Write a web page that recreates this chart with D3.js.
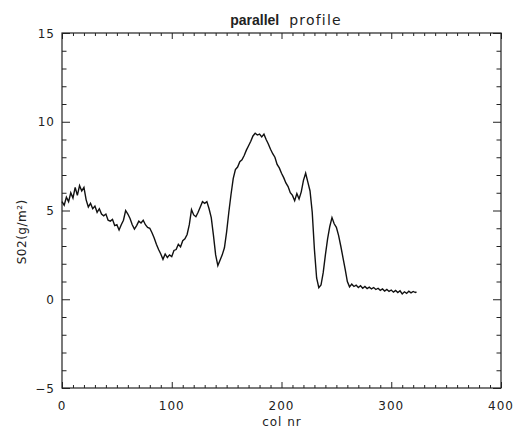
<!DOCTYPE html>
<html>
<head>
<meta charset="utf-8">
<script src="https://cdn.jsdelivr.net/npm/d3@7"></script>
<style>
  body { margin: 0; background: #fff; }
  svg text { font-family: "DejaVu Sans", Verdana, sans-serif; fill: #222; }
</style>
</head>
<body>
<svg id="chart" width="517" height="433"></svg>
<script>
// column numbers and SO2 column amounts
var cols = [0, 2, 4, 6, 8, 10, 12, 14, 16, 18, 20, 22, 24, 26, 28, 30, 32, 34, 36, 38,
  40, 42, 44, 46, 48, 50, 52, 54, 56, 58, 60, 62, 64, 66, 68, 70, 72, 74, 76, 78,
  80, 82, 84, 86, 88, 90, 92, 94, 96, 98, 100, 102, 104, 106, 108, 110, 112, 114, 116, 118,
  120, 122, 124, 126, 128, 130, 132, 134, 136, 138, 140, 142, 144, 146, 148, 150, 152, 154, 156, 158,
  160, 162, 164, 166, 168, 170, 172, 174, 176, 178, 180, 182, 184, 186, 188, 190, 192, 194, 196, 198,
  200, 202, 204, 206, 208, 210, 212, 214, 216, 218, 220, 222, 224, 226, 228, 230, 232, 234, 236, 238,
  240, 242, 244, 246, 248, 250, 252, 254, 256, 258, 260, 262, 264, 266, 268, 270, 272, 274, 276, 278,
  280, 282, 284, 286, 288, 290, 292, 294, 296, 298, 300, 302, 304, 306, 308, 310, 312, 314, 316, 318,
  320, 322, 323];
var so2 = [5.5, 5.3, 5.75, 5.5, 6.0, 5.7, 6.3, 5.85, 6.4, 6.1, 6.3, 5.6, 5.2, 5.4, 5.1, 5.25, 4.9, 5.1, 4.8, 4.7,
  4.8, 4.45, 4.4, 4.5, 4.15, 4.2, 3.9, 4.2, 4.45, 5.0, 4.8, 4.55, 4.2, 3.95, 4.15, 4.4, 4.3, 4.45, 4.2, 4.05,
  4.0, 3.75, 3.45, 3.1, 2.8, 2.55, 2.25, 2.55, 2.35, 2.5, 2.4, 2.75, 2.8, 3.1, 2.95, 3.3, 3.4, 3.65, 4.2, 5.05,
  4.75, 4.65, 4.9, 5.2, 5.5, 5.4, 5.5, 5.1, 4.6, 3.6, 2.5, 1.9, 2.2, 2.5, 2.9, 3.8, 4.9, 5.9, 6.8, 7.3,
  7.45, 7.75, 7.85, 8.1, 8.4, 8.65, 8.9, 9.2, 9.35, 9.25, 9.3, 9.15, 9.3, 9.0, 8.75, 8.45, 8.2, 8.0, 7.6, 7.4,
  7.1, 6.85, 6.55, 6.35, 6.0, 5.85, 5.55, 5.95, 5.65, 6.05, 6.7, 7.1, 6.6, 6.1, 4.9, 2.8, 1.2, 0.65, 0.8, 1.5,
  2.5, 3.4, 4.1, 4.6, 4.25, 4.05, 3.6, 3.0, 2.35, 1.7, 1.0, 0.7, 0.85, 0.72, 0.8, 0.66, 0.76, 0.62, 0.72, 0.6,
  0.68, 0.58, 0.66, 0.55, 0.62, 0.5, 0.58, 0.46, 0.55, 0.44, 0.52, 0.4, 0.5, 0.38, 0.48, 0.3, 0.42, 0.33, 0.45, 0.36,
  0.44, 0.38, 0.42];
var xTicks = [0, 100, 200, 300, 400];
var yTicks = [-5, 0, 5, 10, 15];

InitChart();

function InitChart() {
  var svg = d3.select('#chart'),
    MARGINS = { top: 33, right: 16, bottom: 45, left: 62 },
    WIDTH = 517,
    HEIGHT = 433,
    x = d3.scaleLinear().domain([0, 400]).range([MARGINS.left, WIDTH - MARGINS.right]),
    y = d3.scaleLinear().domain([-5, 15]).range([HEIGHT - MARGINS.bottom, MARGINS.top]);

  var xMinor = d3.range(0, 401, 10).filter(function(d) { return d % 100 !== 0; });
  var yMinor = d3.range(-5, 16, 1).filter(function(d) { return d % 5 !== 0; });

  // inward ticks on all four sides, IDL style
  function addAxis(axis, ticks, len, tr) {
    svg.append('g')
      .attr('transform', tr)
      .call(axis.tickValues(ticks).tickSize(-len).tickFormat(''))
      .call(function(g) { g.select('.domain').remove(); })
      .selectAll('line').attr('stroke', '#222');
  }
  var bottom = 'translate(0,' + y(-5) + ')', top = 'translate(0,' + y(15) + ')';
  var left = 'translate(' + x(0) + ',0)', right = 'translate(' + x(400) + ',0)';
  addAxis(d3.axisBottom(x), xTicks, 6, bottom);
  addAxis(d3.axisBottom(x), xMinor, 3, bottom);
  addAxis(d3.axisTop(x), xTicks, 6, top);
  addAxis(d3.axisTop(x), xMinor, 3, top);
  addAxis(d3.axisLeft(y), yTicks, 8, left);
  addAxis(d3.axisLeft(y), yMinor, 4.5, left);
  addAxis(d3.axisRight(y), yTicks, 8, right);
  addAxis(d3.axisRight(y), yMinor, 4.5, right);

  svg.append('rect')
    .attr('x', x(0)).attr('y', y(15))
    .attr('width', x(400) - x(0)).attr('height', y(-5) - y(15))
    .attr('fill', 'none').attr('stroke', '#222').attr('stroke-width', 1.2);

  // tick labels
  svg.append('g').selectAll('text')
    .data(xTicks).enter().append('text')
    .attr('x', function(d) { return x(d); })
    .attr('y', y(-5) + 22)
    .attr('text-anchor', 'middle')
    .attr('font-size', 12)
    .attr('letter-spacing', 1)
    .text(function(d) { return d; });

  svg.append('g').selectAll('text')
    .data(yTicks).enter().append('text')
    .attr('x', x(0) - 7)
    .attr('y', function(d) { return y(d) + 4.5; })
    .attr('text-anchor', 'end')
    .attr('font-size', 12)
    .attr('letter-spacing', 1)
    .text(function(d) { return d < 0 ? '\u2212' + Math.abs(d) : d; });

  // titles
  var title = svg.append('text')
    .attr('x', 286).attr('y', 25)
    .attr('text-anchor', 'middle');
  title.append('tspan')
    .attr('font-family', '"Liberation Sans", Arial, sans-serif')
    .attr('font-size', 14).attr('font-weight', 'bold').text('parallel');
  title.append('tspan').attr('font-size', 14).attr('letter-spacing', 1.2).attr('dx', 10).text('profile');

  svg.append('text')
    .attr('x', 282).attr('y', 426)
    .attr('text-anchor', 'middle')
    .attr('font-size', 12)
    .attr('letter-spacing', 1)
    .text('col nr');

  svg.append('text')
    .attr('transform', 'translate(26,' + y(3.8) + ') rotate(-90)')
    .attr('text-anchor', 'middle')
    .attr('font-size', 12)
    .attr('letter-spacing', 0.5)
    .text('S02(g/m\u00b2)');

  var line = d3.line()
    .x(function(d, i) { return x(cols[i]); })
    .y(function(d) { return y(d); });

  svg.append('path')
    .datum(so2)
    .attr('d', line)
    .attr('fill', 'none')
    .attr('stroke', '#111')
    .attr('stroke-width', 1.4);
}
</script>
</body>
</html>
